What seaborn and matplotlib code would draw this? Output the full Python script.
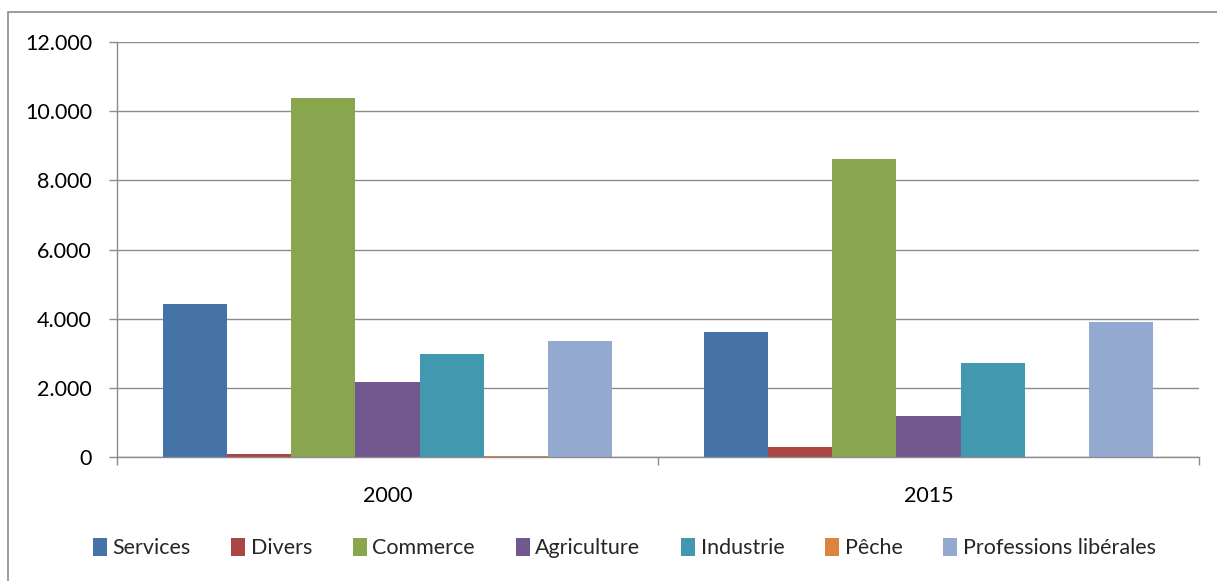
import matplotlib
matplotlib.use("Agg")
import matplotlib.pyplot as plt
from matplotlib.patches import Rectangle
from matplotlib.ticker import FuncFormatter, FixedLocator, NullFormatter
import seaborn as sns
import pandas as pd

# Number of workers by sector, 2000 vs 2015
years = ["2000", "2015"]
sectors = ["Services", "Divers", "Commerce", "Agriculture", "Industrie", "Pêche",
           "Professions libérales"]
values_2000 = [4420, 80, 10380, 2170, 2980, 25, 3350]
values_2015 = [3610, 290, 8620, 1200, 2720, 0, 3900]
colors = ["#4572A7", "#AA4643", "#89A54E", "#71588F", "#4198AF", "#DB843D", "#93A9CF"]

rows = []
for year, vals in zip(years, [values_2000, values_2015]):
    for sector, v in zip(sectors, vals):
        rows.append({"year": year, "sector": sector, "value": v})
df = pd.DataFrame(rows)

sns.set_theme(style="white")
plt.rcParams["font.family"] = ["Lato", "DejaVu Sans"]

fig = plt.figure(figsize=(12.17, 5.81), dpi=100)
ax = fig.add_axes([117 / 1217, 1 - 457 / 581, (1199 - 117) / 1217, (457 - 42) / 581])

sns.barplot(data=df, x="year", y="value", hue="sector", hue_order=sectors,
            palette=dict(zip(sectors, colors)), width=0.83, gap=0, saturation=1,
            linewidth=0, errorbar=None, ax=ax)

grid_c = "#8c8c8c"
ax.set_ylim(0, 12000)
ax.set_xlim(-0.5, 1.5)
ax.set_yticks(range(0, 12001, 2000))
ax.yaxis.set_major_formatter(FuncFormatter(lambda v, p: f"{int(v):,}".replace(",", ".")))
ax.yaxis.grid(True, color=grid_c, linewidth=1.0)
ax.set_axisbelow(True)
ax.tick_params(axis="y", which="major", direction="out", length=6, width=1.0,
               color=grid_c, pad=12, labelsize=15.5, labelcolor="black", left=True)
ax.xaxis.set_minor_locator(FixedLocator([-0.5, 0.5, 1.5]))
ax.xaxis.set_minor_formatter(NullFormatter())
ax.tick_params(axis="x", which="minor", direction="out", length=6, width=1.0,
               color=grid_c, bottom=True)
ax.tick_params(axis="x", which="major", length=0, pad=21, labelsize=15.5,
               labelcolor="black")
ax.set_xlabel("")
ax.set_ylabel("")
for side in ["top", "right"]:
    ax.spines[side].set_visible(False)
for side in ["left", "bottom"]:
    ax.spines[side].set_color(grid_c)
    ax.spines[side].set_linewidth(1.0)

handles, labels = ax.get_legend_handles_labels()
if ax.get_legend() is not None:
    ax.get_legend().remove()
fig.legend(handles, labels, loc="center", bbox_to_anchor=(0.513, 1 - 548 / 581),
           ncol=7, frameon=False, fontsize=15.5, handlelength=0.65, handleheight=0.9,
           handletextpad=0.25, columnspacing=1.9)

# chart frame
fig.patches.append(Rectangle((8 / 1217, -0.1), 1.2, 1 - 12 / 581 + 0.1,
                             transform=fig.transFigure, fill=False,
                             edgecolor="#8c8c8c", linewidth=1.2))

fig.savefig("out.png", dpi=100)
